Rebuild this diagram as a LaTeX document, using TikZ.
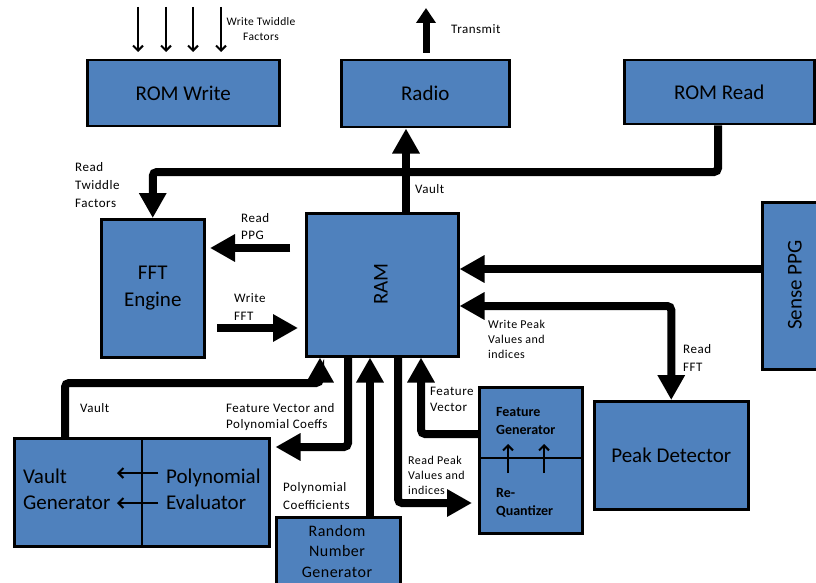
\documentclass[tikz,border=0pt]{standalone}
\usepackage{fontspec}
\setmainfont{Carlito}
\usetikzlibrary{arrows.meta,calc}
\definecolor{boxblue}{HTML}{4F81BD}
\begin{document}
\begin{tikzpicture}[x=1pt,y=-1pt,
  blk/.style={draw=black, line width=2.5pt, fill=boxblue, inner sep=0pt,
    font=\fontsize{21}{27}\selectfont, align=center, anchor=north west},
  boxtxt/.style={inner sep=0pt, font=\fontsize{21}{26}\selectfont, align=left, anchor=north west},
  bus/.style={line width=8pt, rounded corners=4pt},
  big/.style={-{Triangle[length=25pt,width=26pt]}},
  bigboth/.style={{Triangle[length=25pt,width=26pt]}-{Triangle[length=25pt,width=26pt]}},
  thinarr/.style={line width=2pt, -{Straight Barb[length=5pt,width=10pt]}},
  divider/.style={line width=2pt},
  lbl/.style={inner sep=0pt, anchor=north west, align=left,
    font=\fontsize{13}{18}\selectfont\addfontfeature{LetterSpace=4}},
  lbls/.style={inner sep=0pt, anchor=north west, align=left,
    font=\fontsize{12}{15}\selectfont\addfontfeature{LetterSpace=4}},
]
\useasboundingbox (0,0) rectangle (816,583);

% ---------- blocks ----------
\node[blk, minimum width=192pt, minimum height=66pt] (romw) at (86,59) {ROM Write};
\node[blk, minimum width=168pt, minimum height=67pt] (radio) at (340,59) {Radio};
\node[blk, minimum width=190pt, minimum height=64pt] (romr) at (623,59) {ROM Read};
\node[blk, minimum width=103pt, minimum height=138pt] (fft) at (100,218) {FFT\\Engine};
\node[blk, minimum width=152pt, minimum height=143pt] (ram) at (305,212) {};
\node[rotate=90, inner sep=0pt, font=\fontsize{21}{26}\selectfont] (ramlbl) at (381,284) {RAM};
\node[blk, minimum width=80pt, minimum height=167pt] (sense) at (761,201) {};
\node[rotate=90, inner sep=0pt, font=\fontsize{21}{26}\selectfont] (senselbl) at (795,285) {Sense PPG};
\node[blk, minimum width=154pt, minimum height=108pt] (peak) at (593,400) {Peak Detector};

% feature generator / re-quantizer
\node[blk, minimum width=103pt, minimum height=146pt] (feat) at (478,386) {};
\coordinate (fdiv) at (0,458);
\draw[divider] (feat.west |- fdiv) -- (feat.east |- fdiv);
\node[boxtxt, font=\bfseries\fontsize{14}{18}\selectfont] (featlbl) at (496,407) {Feature\\Generator};
\node[boxtxt, font=\bfseries\fontsize{14}{18}\selectfont] (requant) at (496,488) {Re-\\Quantizer};
\coordinate (ua1s) at (508,473); \coordinate (ua1e) at (508,444);
\coordinate (ua2s) at (544,473); \coordinate (ua2e) at (544,444);
\draw[thinarr] (ua1s) -- (ua1e);
\draw[thinarr] (ua2s) -- (ua2e);

% vault generator / polynomial evaluator
\node[blk, minimum width=255pt, minimum height=108pt] (vp) at (13,437) {};
\coordinate (vdiv) at (142,0);
\draw[divider] (vp.north -| vdiv) -- (vp.south -| vdiv);
\node[boxtxt] (vglbl) at (23,469) {Vault\\Generator};
\node[boxtxt] (pelbl) at (166,469) {Polynomial\\Evaluator};
\coordinate (la1s) at (158,473); \coordinate (la1e) at (117,473);
\coordinate (la2s) at (158,503); \coordinate (la2e) at (117,503);
\draw[thinarr] (la1s) -- (la1e);
\draw[thinarr] (la2s) -- (la2e);

% random number generator
\node[blk, minimum width=124pt, minimum height=80pt] (rng) at (275,516) {};
\node[inner sep=0pt, align=center, font=\fontsize{16}{20.5}\selectfont\addfontfeature{LetterSpace=3}] (rnglbl) at (337,551) {Random\\Number\\Generator};

% ---------- connectors ----------
% write twiddle factors into ROM
\foreach \i/\xx in {1/138,2/166,3/193,4/221}{
  \coordinate (wt\i) at (\xx,7);
  \draw[thinarr] (wt\i) -- ($(romw.north -| wt\i)+(0,-7)$);
}
% transmit
\coordinate (txtip) at (426,8);
\draw[line width=7pt, -{Triangle[length=15pt,width=19pt]}] ($(radio.north -| txtip)+(0,-6)$) -- (txtip);
% vault to radio
\coordinate (vx) at (406,0);
\draw[bus, big] (ram.north -| vx) -- (radio.south -| vx);
% ROM read to FFT engine
\coordinate (busy) at (0,172);
\draw[bus, big] (romr.south -| 718,0) -- (718,172) -- (fft.north |- busy) -- (fft.north);
% read PPG / write FFT
\coordinate (rppa) at (290,248); \coordinate (rppb) at (210,248);
\draw[line width=8pt, big] (rppa) -- (rppb);
\coordinate (wffa) at (217,328); \coordinate (wffb) at (298,328);
\draw[line width=8pt, big] (wffa) -- (wffb);
% sense PPG to RAM
\coordinate (sy) at (0,269);
\draw[bus, big] (sense.west |- sy) -- (ram.east |- sy);
% RAM <-> peak detector
\coordinate (py) at (0,306);
\draw[bus, bigboth] (ram.east |- py) -| (peak.north);
% vault generator to RAM
\coordinate (va) at (65,383); \coordinate (vb) at (320,383);
\draw[bus, big] (vp.north -| va) -- (va) -- (vb) -- (ram.south -| vb);
% RAM to polynomial evaluator
\coordinate (fa) at (348,447);
\draw[bus, big] (ram.south -| fa) -- (fa) -- ($(vp.east |- fa)+(5,0)$);
% random numbers to RAM
\coordinate (pc) at (370,0);
\draw[bus, big] (rng.north -| pc) -- (ram.south -| pc);
% RAM to re-quantizer
\coordinate (rpk) at (398,503);
\draw[bus, big] (ram.south -| rpk) -- (rpk) -- ($(feat.west |- rpk)+(-6,0)$);
% feature vector back to RAM
\coordinate (fv) at (421,434);
\draw[bus, big] (feat.west |- fv) -- (fv) -- (ram.south -| fv);

% ---------- labels ----------
\node[inner sep=0pt, align=center, anchor=north, font=\fontsize{11.5}{15}\selectfont\addfontfeature{LetterSpace=3}] (wtlbl) at (261,17) {Write Twiddle\\Factors};
\node[lbl] (txlbl) at (451,24) {Transmit};
\node[lbl] (rtlbl) at (75,162) {Read\\Twiddle\\Factors};
\node[lbl, font=\fontsize{13}{17}\selectfont\addfontfeature{LetterSpace=4}] (rplbl) at (241,213) {Read\\PPG};
\node[lbl] (wflbl) at (234,293) {Write\\FFT};
\node[lbl] (vaultlbl) at (415,184) {Vault};
\node[lbls] (wplbl) at (488,320) {Write Peak\\Values and\\indices};
\node[lbl] (rflbl) at (683,344) {Read\\FFT};
\node[lbl, font=\fontsize{13}{16}\selectfont\addfontfeature{LetterSpace=4}] (fvlbl) at (430,387) {Feature\\Vector};
\node[lbls] (rpklbl) at (408,456) {Read Peak\\Values and\\indices};
\node[lbl, font=\fontsize{13}{16}\selectfont\addfontfeature{LetterSpace=4}] (fvpclbl) at (226,403) {Feature Vector and\\Polynomial Coeffs};
\node[lbl] (vlbl) at (80,403) {Vault};
\node[lbl] (pclbl) at (283,482) {Polynomial\\Coefficients};
\end{tikzpicture}
\end{document}
